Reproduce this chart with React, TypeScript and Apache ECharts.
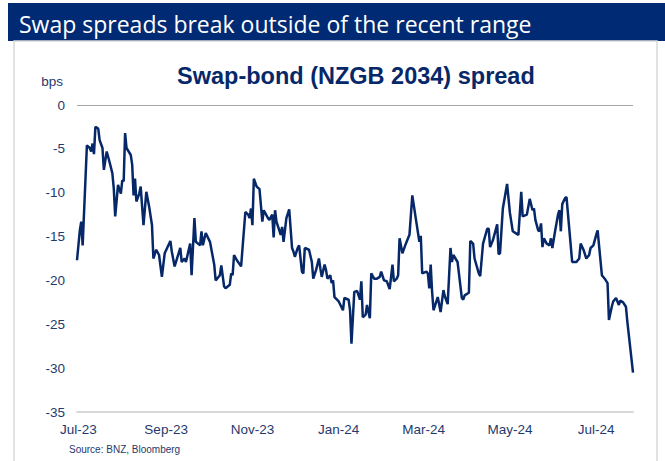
import React, { useEffect, useRef } from "react";
import * as echarts from "echarts";

const BANNER_TITLE = "Swap spreads break outside of the recent range";
const CHART_TITLE = "Swap-bond (NZGB 2034) spread";
const Y_UNIT = "bps";
const SOURCE = "Source: BNZ, Bloomberg";

const X_MIN_DATE = "2023-06-30";
const X_MAX_DATE = "2024-07-27";
const Y_MIN = -35;
const Y_MAX = 0;
const Y_STEP = 5;

const xTickDates = ["2023-07-01", "2023-09-01", "2023-11-01", "2024-01-01", "2024-03-01", "2024-05-01", "2024-07-01"];
const MONTHS = ["Jan", "Feb", "Mar", "Apr", "May", "Jun", "Jul", "Aug", "Sep", "Oct", "Nov", "Dec"];

const dates = [
  "2023-06-30", "2023-07-02", "2023-07-03", "2023-07-04", "2023-07-07", "2023-07-09", "2023-07-10", "2023-07-11",
  "2023-07-12", "2023-07-13", "2023-07-15", "2023-07-16", "2023-07-18", "2023-07-19", "2023-07-21", "2023-07-23",
  "2023-07-25", "2023-07-26", "2023-07-27", "2023-07-29", "2023-07-31", "2023-08-01", "2023-08-02", "2023-08-03",
  "2023-08-04", "2023-08-07", "2023-08-08", "2023-08-09", "2023-08-10", "2023-08-11", "2023-08-13", "2023-08-14",
  "2023-08-16", "2023-08-18", "2023-08-20", "2023-08-22", "2023-08-23", "2023-08-25", "2023-08-27", "2023-08-29",
  "2023-08-31", "2023-09-04", "2023-09-05", "2023-09-07", "2023-09-11", "2023-09-12", "2023-09-14", "2023-09-15",
  "2023-09-18", "2023-09-19", "2023-09-21", "2023-09-22", "2023-09-25", "2023-09-26", "2023-09-27", "2023-09-29",
  "2023-10-02", "2023-10-05", "2023-10-06", "2023-10-09", "2023-10-10", "2023-10-12", "2023-10-13", "2023-10-16",
  "2023-10-17", "2023-10-18", "2023-10-19", "2023-10-21", "2023-10-24", "2023-10-27", "2023-10-29", "2023-10-30",
  "2023-10-31", "2023-11-01", "2023-11-02", "2023-11-04", "2023-11-06", "2023-11-08", "2023-11-09", "2023-11-12",
  "2023-11-13", "2023-11-15", "2023-11-16", "2023-11-17", "2023-11-18", "2023-11-21", "2023-11-22", "2023-11-23",
  "2023-11-25", "2023-11-27", "2023-11-29", "2023-11-30", "2023-12-01", "2023-12-03", "2023-12-04", "2023-12-06",
  "2023-12-07", "2023-12-08", "2023-12-11", "2023-12-13", "2023-12-14", "2023-12-16", "2023-12-18", "2023-12-19",
  "2023-12-20", "2023-12-22", "2023-12-23", "2023-12-24", "2023-12-26", "2023-12-27", "2023-12-28", "2023-12-29",
  "2024-01-01", "2024-01-04", "2024-01-05", "2024-01-08", "2024-01-09", "2024-01-10", "2024-01-12", "2024-01-14",
  "2024-01-16", "2024-01-17", "2024-01-18", "2024-01-20", "2024-01-21", "2024-01-22", "2024-01-23", "2024-01-24",
  "2024-01-26", "2024-01-28", "2024-01-30", "2024-01-31", "2024-02-02", "2024-02-04", "2024-02-06", "2024-02-08",
  "2024-02-09", "2024-02-11", "2024-02-12", "2024-02-13", "2024-02-15", "2024-02-17", "2024-02-18", "2024-02-20",
  "2024-02-22", "2024-02-25", "2024-02-27", "2024-02-28", "2024-02-29", "2024-03-03", "2024-03-04", "2024-03-05",
  "2024-03-06", "2024-03-07", "2024-03-08", "2024-03-11", "2024-03-13", "2024-03-15", "2024-03-16", "2024-03-18",
  "2024-03-20", "2024-03-21", "2024-03-22", "2024-03-25", "2024-03-28", "2024-03-29", "2024-03-30", "2024-04-02",
  "2024-04-03", "2024-04-05", "2024-04-06", "2024-04-09", "2024-04-10", "2024-04-12", "2024-04-15", "2024-04-16",
  "2024-04-17", "2024-04-19", "2024-04-20", "2024-04-22", "2024-04-23", "2024-04-24", "2024-04-26", "2024-04-29",
  "2024-05-01", "2024-05-03", "2024-05-05", "2024-05-07", "2024-05-09", "2024-05-10", "2024-05-13", "2024-05-15",
  "2024-05-17", "2024-05-18", "2024-05-19", "2024-05-21", "2024-05-22", "2024-05-23", "2024-05-24", "2024-05-25",
  "2024-05-27", "2024-05-29", "2024-05-30", "2024-05-31", "2024-06-02", "2024-06-04", "2024-06-05", "2024-06-06",
  "2024-06-07", "2024-06-09", "2024-06-10", "2024-06-14", "2024-06-17", "2024-06-19", "2024-06-20", "2024-06-22",
  "2024-06-24", "2024-06-26", "2024-06-27", "2024-06-29", "2024-07-01", "2024-07-02", "2024-07-05", "2024-07-07",
  "2024-07-09", "2024-07-10", "2024-07-12", "2024-07-13", "2024-07-15", "2024-07-17", "2024-07-18", "2024-07-20",
  "2024-07-22", "2024-07-23", "2024-07-27",
];

const spread = [
  -17.7, -14.3, -13.3, -16.0, -4.6, -4.9, -5.3, -4.4,
  -5.6, -2.5, -2.7, -4.0, -4.9, -7.4, -5.3, -6.5,
  -7.8, -9.5, -12.7, -9.1, -10.1, -8.6, -8.7, -3.2,
  -4.9, -5.7, -6.8, -10.3, -8.4, -11.0, -10.1, -9.3,
  -13.7, -9.9, -11.6, -13.7, -17.5, -16.5, -17.1, -19.6,
  -16.9, -15.5, -16.7, -18.4, -16.3, -17.9, -17.5, -17.9,
  -15.8, -19.4, -12.9, -15.6, -16.0, -14.4, -16.0, -14.6,
  -15.6, -18.2, -20.0, -19.4, -18.3, -20.7, -20.9, -20.5,
  -19.2, -19.4, -17.1, -17.7, -18.4, -12.2, -12.5, -12.9,
  -11.8, -13.7, -8.4, -9.3, -9.6, -13.3, -12.0, -12.9,
  -13.1, -12.5, -15.1, -12.0, -13.3, -14.8, -13.9, -15.6,
  -12.9, -11.9, -16.3, -16.7, -17.3, -16.3, -16.0, -19.0,
  -19.2, -16.3, -16.5, -17.9, -19.8, -18.8, -17.5, -18.6,
  -19.6, -18.2, -18.8, -19.8, -19.4, -20.3, -20.0, -21.9,
  -22.4, -23.4, -22.0, -22.2, -23.4, -27.2, -21.3, -21.2,
  -22.2, -20.1, -24.2, -23.9, -22.8, -23.6, -24.3, -19.2,
  -19.8, -19.8, -19.6, -19.0, -20.0, -20.1, -21.0, -18.2,
  -20.1, -19.8, -19.4, -15.2, -16.9, -16.0, -15.6, -14.8,
  -10.3, -13.5, -15.6, -14.9, -19.2, -19.0, -19.2, -20.9,
  -18.2, -21.3, -23.4, -21.9, -23.6, -21.1, -21.8, -22.7,
  -16.3, -17.9, -17.1, -17.9, -22.0, -22.2, -21.7, -21.4,
  -15.5, -15.8, -17.5, -19.2, -19.5, -15.8, -14.1, -14.1,
  -16.2, -15.4, -14.8, -13.6, -17.0, -16.9, -11.8, -9.0,
  -12.3, -14.4, -14.6, -14.8, -9.9, -12.7, -12.5, -10.7,
  -12.0, -11.8, -13.1, -14.3, -14.4, -13.5, -16.2, -15.2,
  -15.8, -16.0, -15.2, -16.3, -14.3, -12.5, -12.0, -14.4,
  -11.3, -10.6, -10.5, -17.9, -17.9, -17.5, -15.8, -16.5,
  -17.5, -17.1, -16.3, -16.0, -14.8, -14.3, -19.4, -19.8,
  -20.3, -24.5, -23.0, -22.4, -22.0, -22.8, -22.3, -22.5,
  -23.0, -24.7, -30.5,
];

const NAVY = "#062868";
const LABEL = "#1f3a6e";
const FONT = "Liberation Sans";

const toTs = (d: string) => Date.parse(d + "T00:00:00Z");

export default function App() {
  const ref = useRef<HTMLDivElement>(null);
  useEffect(() => {
    if (!ref.current) return;
    const chart = echarts.init(ref.current, null, { renderer: "svg" });
    const data = dates.map((d, i) => [toTs(d), spread[i]]);
    chart.setOption({
      animation: false,
      backgroundColor: "#ffffff",
      title: [
        {
          text: BANNER_TITLE,
          left: 14,
          top: 7,
          z: 10,
          textStyle: { color: "#ffffff", fontFamily: "Open Sans", fontSize: 23, fontWeight: "normal" },
        },
        {
          text: CHART_TITLE,
          left: 172,
          top: 59,
          textStyle: { color: NAVY, fontFamily: FONT, fontSize: 23.5, fontWeight: "bold" },
        },
      ],
      graphic: [
        { type: "rect", z: 0, shape: { x: 8, y: 3, width: 657, height: 38 }, style: { fill: "#002a74" } },
        {
          type: "rect",
          z: 0,
          shape: { x: 14, y: 41, width: 643, height: 440 },
          style: { fill: "none", stroke: "#d9d9d9", lineWidth: 1.5 },
        },
        {
          type: "text",
          x: 63,
          y: 81,
          style: { text: Y_UNIT, align: "right", verticalAlign: "middle", fill: LABEL, fontSize: 13.5, fontFamily: FONT },
        },
        {
          type: "text",
          x: 69,
          y: 449,
          style: { text: SOURCE, align: "left", verticalAlign: "middle", fill: LABEL, fontSize: 10, fontFamily: FONT },
        },
      ],
      grid: { left: 77, right: 32, top: 105, bottom: 49 },
      xAxis: {
        type: "value",
        min: toTs(X_MIN_DATE),
        max: toTs(X_MAX_DATE),
        axisLine: { show: true, onZero: false, lineStyle: { color: "#d9d9d9", width: 2 } },
        axisTick: { show: false },
        splitLine: { show: false },
        axisLabel: {
          customValues: xTickDates.map(toTs),
          formatter: (v: number) => {
            const d = new Date(v);
            return `${MONTHS[d.getUTCMonth()]}-${String(d.getUTCFullYear() % 100).padStart(2, "0")}`;
          },
          margin: 10,
          color: LABEL,
          fontSize: 13.5,
          fontFamily: FONT,
        },
      },
      yAxis: {
        type: "value",
        min: Y_MIN,
        max: Y_MAX,
        interval: Y_STEP,
        axisLine: { show: false },
        axisTick: { show: false },
        splitLine: { show: false },
        axisLabel: { margin: 12, color: LABEL, fontSize: 13.5, fontFamily: FONT },
      },
      series: [
        {
          type: "line",
          data,
          symbol: "none",
          showSymbol: false,
          lineStyle: { color: NAVY, width: 2.5 },
          markLine: {
            silent: true,
            symbol: ["none", "none"],
            label: { show: false },
            lineStyle: { color: "#a6a6a6", width: 1, type: "solid" },
            data: [{ yAxis: 0 }],
          },
        },
      ],
    });
    return () => chart.dispose();
  }, []);
  return (
    <div
      ref={ref}
      style={{ position: "fixed", left: 0, top: 0, width: 665, height: 461, background: "#ffffff" }}
    />
  );
}
